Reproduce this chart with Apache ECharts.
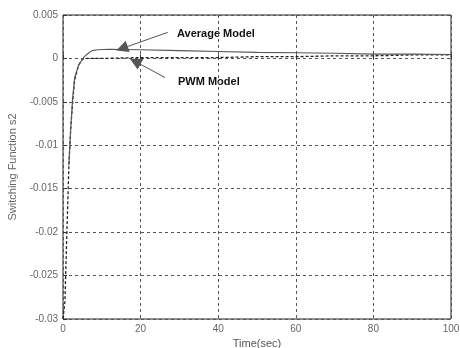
<!DOCTYPE html>
<html>
<head>
<meta charset="utf-8">
<script src="https://cdn.jsdelivr.net/npm/echarts@6/dist/echarts.min.js"></script>
<style>
  html, body { margin: 0; padding: 0; background: #fff; }
  #chart { width: 460px; height: 348px; }
</style>
</head>
<body>
<div id="chart"></div>
<script>
// time axis ticks and y ticks
var xTicks = [0, 20, 40, 60, 80, 100];
var yTicks = [0.005, 0, -0.005, -0.01, -0.015, -0.02, -0.025, -0.03];

// Average model (solid)
var avgTime = [1.5, 2, 2.5, 3, 4, 5, 5.5, 6.5, 7.5, 9, 12, 20, 30, 40, 50, 60, 70, 80, 90, 100];
var avgVal  = [-0.0123, -0.008, -0.0045, -0.0022, -0.0008, -0.0001, 0.0002, 0.0006, 0.0009, 0.001, 0.00105, 0.001, 0.0009, 0.0008, 0.0007, 0.00065, 0.0006, 0.0005, 0.0005, 0.00045];

// PWM model (dashed)
var pwmTime = [0, 0.5, 1, 1.5, 2, 2.5, 3, 4, 5, 6, 10, 20, 30, 40, 50, 60, 70, 80, 90, 100];
var pwmVal  = [-0.03, -0.028, -0.02, -0.0125, -0.008, -0.005, -0.0025, -0.0008, -0.0001, 0, 0, 0.0001, 0.0001, 0.0001, 0.0002, 0.0002, 0.0003, 0.0003, 0.0004, 0.0004];

// annotation arrows: [fromT, fromV, toT, toV]
var avgArrow = [27, 0.003, 15.2, 0.00115];
var pwmArrow = [26.3, -0.0022, 18.6, -0.00035];

function pairs(t, v) {
    var out = [];
    for (var i = 0; i < t.length; i++) out.push([t[i], v[i]]);
    return out;
}
function arrow(a) {
    return [{ coord: [a[0], a[1]], symbol: 'none' }, { coord: [a[2], a[3]], symbol: 'triangle' }];
}

var font = 'Liberation Sans';
var myChart = echarts.init(document.getElementById('chart'));
myChart.setOption({
    animation: false,
    grid: {
        left: 63, right: 9, top: 15, bottom: 29, show: true,
        borderColor: '#222', borderWidth: 1,
        containLabel: false, outerBoundsMode: 'none'
    },
    xAxis: {
        type: 'value', min: 0, max: 100, interval: 20,
        name: 'Time(sec)', nameLocation: 'middle', nameGap: 18,
        nameTextStyle: { color: '#555', fontFamily: font, fontSize: 11 },
        axisLine: { show: false },
        axisTick: { inside: true, length: 4, lineStyle: { color: '#333' } },
        axisLabel: { color: '#666', fontFamily: font, fontSize: 10, margin: 5 },
        splitLine: { show: true, lineStyle: { color: '#555', type: [3, 3], width: 1 } }
    },
    yAxis: {
        type: 'value', min: -0.03, max: 0.005, interval: 0.005,
        name: 'Switching Function s2', nameLocation: 'middle', nameGap: 45,
        nameTextStyle: { color: '#666', fontFamily: font, fontSize: 11 },
        axisLine: { show: false },
        axisTick: { inside: true, length: 4, lineStyle: { color: '#333' } },
        axisLabel: {
            color: '#666', fontFamily: font, fontSize: 10, margin: 5,
            formatter: function (v) {
                var s = Math.round(v * 1000) / 1000;
                return String(s);
            }
        },
        splitLine: { show: true, lineStyle: { color: '#555', type: [3, 3], width: 1 } }
    },
    series: [
        {
            name: 'PWM Model', type: 'line', showSymbol: false,
            data: pairs(pwmTime, pwmVal),
            lineStyle: { color: '#222', width: 1.3, type: [3, 2] },
            markLine: {
                silent: true, symbolSize: 12,
                label: { show: false },
                lineStyle: { color: '#555', width: 1, type: 'solid' },
                data: [arrow(pwmArrow)]
            }
        },
        {
            name: 'Average Model', type: 'line', showSymbol: false,
            data: pairs(avgTime, avgVal),
            lineStyle: { color: '#555', width: 1.1 },
            markLine: {
                silent: true, symbolSize: 12,
                label: { show: false },
                lineStyle: { color: '#555', width: 1, type: 'solid' },
                data: [arrow(avgArrow)]
            }
        }
    ],
    graphic: [
        { type: 'text', left: 177, top: 28, style: { text: 'Average Model', font: 'bold 11px ' + font, fill: '#111' } },
        { type: 'text', left: 178, top: 76, style: { text: 'PWM Model', font: 'bold 11px ' + font, fill: '#111' } }
    ]
});
</script>
</body>
</html>
